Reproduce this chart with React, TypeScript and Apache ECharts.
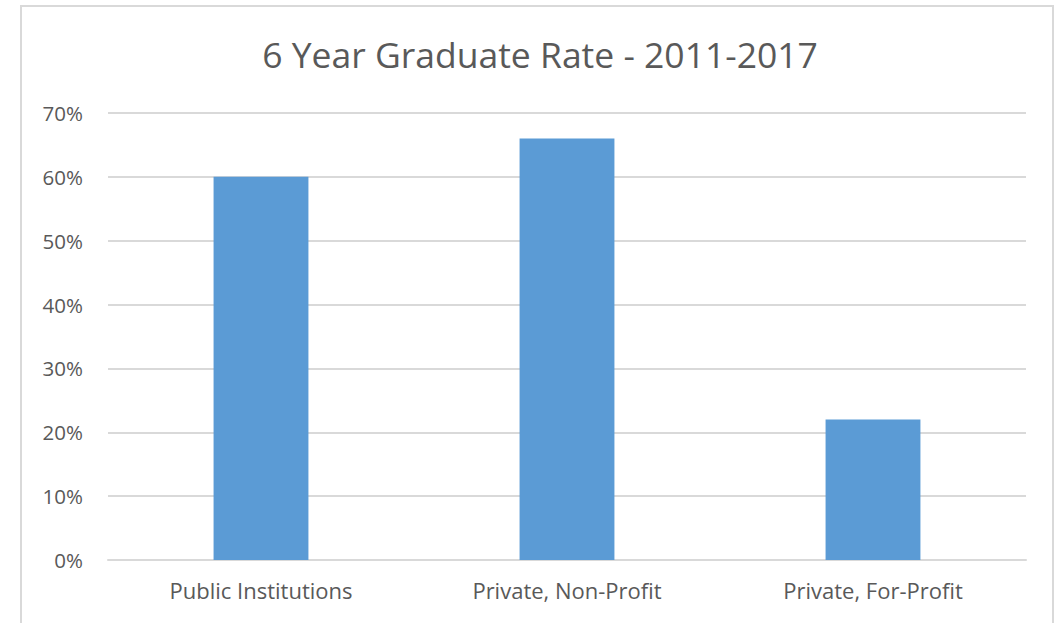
import React, { useEffect, useRef } from "react";
import * as echarts from "echarts";

const categories = ["Public Institutions", "Private, Non-Profit", "Private, For-Profit"];
const rates = [0.6, 0.66, 0.22];
const yTicks = { min: 0, max: 0.7, interval: 0.1 };
const titleText = "6 Year Graduate Rate - 2011-2017";

export default function App() {
  const ref = useRef<HTMLDivElement>(null);
  useEffect(() => {
    if (!ref.current) return;
    const chart = echarts.init(ref.current, undefined, { renderer: "svg" });
    const font = "Open Sans";
    chart.setOption({
      animation: false,
      backgroundColor: "#ffffff",
      title: {
        text: titleText,
        left: 535,
        top: 31,
        textAlign: "center",
        textStyle: { fontFamily: font, fontSize: 35.5, fontWeight: "normal", color: "#595959" },
      },
      graphic: [
        {
          type: "rect",
          shape: { x: 21, y: 6, width: 1032, height: 640 },
          style: { fill: "none", stroke: "#d9d9d9", lineWidth: 2 },
          silent: true,
        },
      ],
      grid: { left: 108, right: 33, top: 113, bottom: 63, containLabel: false },
      xAxis: {
        type: "category",
        data: categories,
        axisLine: { show: true, lineStyle: { color: "#d9d9d9", width: 2 } },
        axisTick: { show: false },
        axisLabel: { color: "#595959", fontFamily: font, fontSize: 22, margin: 19 },
      },
      yAxis: {
        type: "value",
        min: yTicks.min,
        max: yTicks.max,
        interval: yTicks.interval,
        axisLine: { show: false },
        axisTick: { show: false },
        splitLine: { lineStyle: { color: "#d9d9d9", width: 2 } },
        axisLabel: {
          color: "#595959",
          fontFamily: font,
          fontSize: 20.5,
          margin: 25,
          formatter: (v: number) => Math.round(v * 100) + "%",
        },
      },
      series: [
        {
          type: "bar",
          data: rates,
          barWidth: "31%",
          itemStyle: { color: "#5b9bd5" },
        },
      ],
    });
    return () => chart.dispose();
  }, []);
  return (
    <div
      ref={ref}
      style={{ position: "fixed", left: 0, top: 0, width: 1059, height: 623 }}
    />
  );
}
